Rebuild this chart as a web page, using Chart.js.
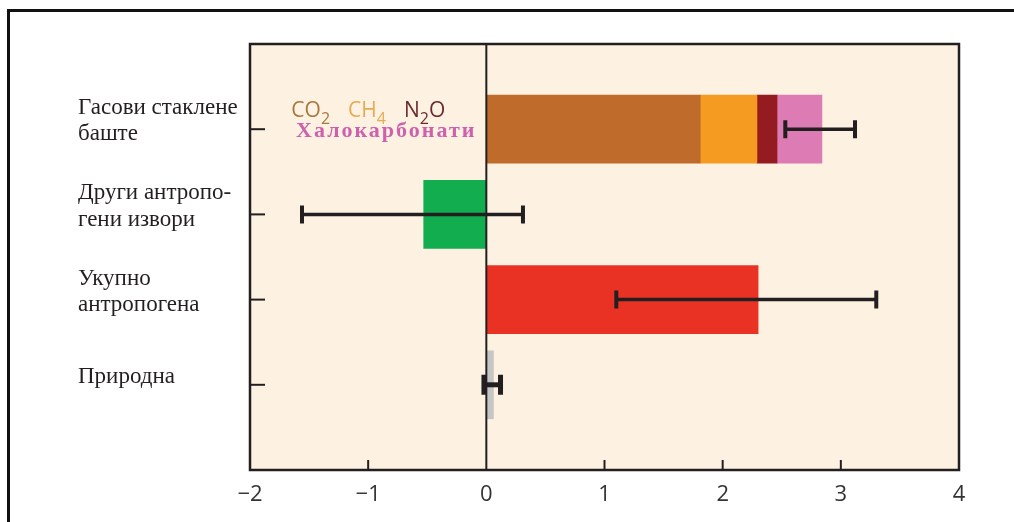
<!DOCTYPE html>
<html>
<head>
<meta charset="utf-8">
<script src="https://cdn.jsdelivr.net/npm/chart.js@4.4.1/dist/chart.umd.min.js"></script>
<style>
  html, body { margin: 0; padding: 0; background: #fff; }
  #wrap { width: 1014px; height: 522px; }
</style>
</head>
<body>
<div id="wrap"><canvas id="forcingChart" width="1014" height="522"></canvas></div>
<script>
// categories (empty slots at top and bottom keep the spacing of the original)
const categories = ['', ['Гасови стаклене', 'баште'], ['Други антропо-', 'гени извори'], ['Укупно', 'антропогена'], ['Природна'], ''];

// greenhouse gas components, W/m2
const co2Values = [null, 1.81, null, null, null, null];
const ch4Values = [null, 0.48, null, null, null, null];
const n2oValues = [null, 0.17, null, null, null, null];
const haloValues = [null, 0.38, null, null, null, null];
const otherValues = [null, null, -0.53, null, null, null];
const totalValues = [null, null, null, 2.30, null, null];
const naturalValues = [null, null, null, null, 0.06, null];

// uncertainty ranges
const errLow = [null, 2.53, -1.56, 1.10, -0.02, null];
const errHigh = [null, 3.12, 0.31, 3.30, 0.12, null];

// x axis ticks
const xTicks = [-2, -1, 0, 1, 2, 3, 4];

const ink = '#231f20';

const framePlugin = {
  id: 'frame',
  beforeDraw(chart) {
    const { ctx, chartArea: a } = chart;
    ctx.save();
    ctx.fillStyle = '#fdf2e1';
    ctx.fillRect(a.left, a.top, a.right - a.left, a.bottom - a.top);
    // outer picture frame
    ctx.strokeStyle = '#111';
    ctx.lineWidth = 3;
    ctx.beginPath();
    ctx.moveTo(8.5, 522);
    ctx.lineTo(8.5, 10.5);
    ctx.lineTo(1014, 10.5);
    ctx.stroke();
    ctx.restore();
  },
  afterDatasetsDraw(chart) {
    const { ctx, chartArea: a } = chart;
    const xs = chart.scales.x, ys = chart.scales.y;
    ctx.save();
    ctx.strokeStyle = ink;
    // zero line
    ctx.lineWidth = 2;
    const x0 = xs.getPixelForValue(0);
    ctx.beginPath();
    ctx.moveTo(x0, a.top);
    ctx.lineTo(x0, a.bottom);
    ctx.stroke();
    // plot border
    ctx.lineWidth = 2.5;
    ctx.strokeRect(a.left, a.top, a.right - a.left, a.bottom - a.top);
    // inward ticks on y
    ctx.lineWidth = 2;
    categories.forEach((c, i) => {
      if (!c) return;
      const y = ys.getPixelForValue(i);
      ctx.beginPath();
      ctx.moveTo(a.left, y);
      ctx.lineTo(a.left + 15, y);
      ctx.stroke();
    });
    // inward ticks on x
    xTicks.forEach(v => {
      if (v === xTicks[0] || v === 0 || v === xTicks[xTicks.length - 1]) return;
      const x = xs.getPixelForValue(v);
      ctx.beginPath();
      ctx.moveTo(x, a.bottom);
      ctx.lineTo(x, a.bottom - 10);
      ctx.stroke();
    });
    // error bars
    errLow.forEach((lo, i) => {
      if (lo === null) return;
      const y = ys.getPixelForValue(i);
      const xl = xs.getPixelForValue(lo), xh = xs.getPixelForValue(errHigh[i]);
      const natural = i === 4;
      const h = natural ? 10 : 9;
      ctx.lineWidth = natural ? 5 : 3.5;
      ctx.beginPath();
      ctx.moveTo(xl, y);
      ctx.lineTo(xh, y);
      ctx.stroke();
      ctx.lineWidth = natural ? 5 : 4;
      ctx.beginPath();
      ctx.moveTo(xl, y - h);
      ctx.lineTo(xl, y + h);
      ctx.moveTo(xh, y - h);
      ctx.lineTo(xh, y + h);
      ctx.stroke();
    });
    // gas labels
    const yg = ys.getPixelForValue(1);
    let x = xs.getPixelForValue(-1.65);
    ctx.textBaseline = 'alphabetic';
    ctx.textAlign = 'left';
    const gas = [['CO', '2', '', '#a8783f'], ['CH', '4', '', '#e6ab55'], ['N', '2', 'O', '#6b2a31']];
    gas.forEach(([a1, sub, a2, col]) => {
      ctx.fillStyle = col;
      ctx.font = '21px "Open Sans", sans-serif';
      ctx.fillText(a1, x, yg - 12);
      x += ctx.measureText(a1).width;
      ctx.font = '16px "Open Sans", sans-serif';
      ctx.fillText(sub, x, yg - 5);
      x += ctx.measureText(sub).width;
      ctx.font = '21px "Open Sans", sans-serif';
      if (a2) {
        ctx.fillText(a2, x, yg - 12);
        x += ctx.measureText(a2).width;
      }
      x += 18;
    });
    ctx.fillStyle = '#cf60ae';
    ctx.font = 'bold 22px "Liberation Serif", serif';
    ctx.letterSpacing = '2px';
    ctx.fillText('Халокарбонати', xs.getPixelForValue(-1.61), yg + 8);
    ctx.restore();
  }
};

const barDefaults = { barThickness: 68, borderWidth: 0 };

new Chart(document.getElementById('forcingChart'), {
  type: 'bar',
  data: {
    labels: categories,
    datasets: [
      { label: 'CO2', data: co2Values, backgroundColor: '#be6b2b', ...barDefaults },
      { label: 'CH4', data: ch4Values, backgroundColor: '#f59b21', ...barDefaults },
      { label: 'N2O', data: n2oValues, backgroundColor: '#941b20', ...barDefaults },
      { label: 'Халокарбонати', data: haloValues, backgroundColor: '#dc7bb4', ...barDefaults },
      { label: 'Други', data: otherValues, backgroundColor: '#12ad4f', ...barDefaults },
      { label: 'Укупно', data: totalValues, backgroundColor: '#ea3224', ...barDefaults },
      { label: 'Природна', data: naturalValues, backgroundColor: '#c6c6c6', ...barDefaults }
    ]
  },
  options: {
    indexAxis: 'y',
    responsive: false,
    animation: false,
    layout: { padding: { left: 78, right: 55, top: 44, bottom: 0 } },
    plugins: {
      legend: { display: false },
      tooltip: { enabled: false }
    },
    scales: {
      x: {
        stacked: true,
        min: -2,
        max: 4,
        grid: { display: false },
        border: { display: false },
        afterFit: s => { s.height = 52; },
        afterBuildTicks: s => { s.ticks = xTicks.map(v => ({ value: v })); },
        ticks: {
          padding: 4,
          color: '#333',
          font: { family: '"Open Sans", sans-serif', size: 22 },
          callback: v => (v < 0 ? '\u2212' + Math.abs(v) : String(v))
        }
      },
      y: {
        stacked: true,
        offset: false,
        grid: { display: false },
        border: { display: false },
        afterFit: s => { s.width = 172; },
        ticks: {
          autoSkip: false,
          crossAlign: 'far',
          labelOffset: -8,
          color: ink,
          font: { family: '"Liberation Serif", serif', size: 23, lineHeight: 1.14 }
        }
      }
    }
  },
  plugins: [framePlugin]
});
</script>
</body>
</html>
